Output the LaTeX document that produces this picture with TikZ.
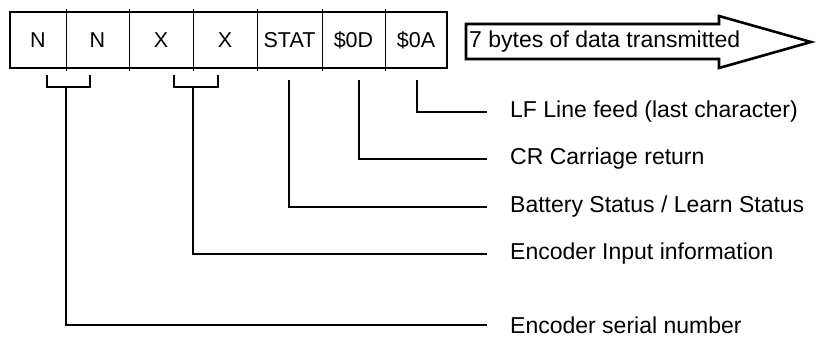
\documentclass[tikz,border=0pt]{standalone}
\usepackage{fontspec}
\setmainfont{Liberation Sans}
\begin{document}
\begin{tikzpicture}[x=1pt,y=-1pt,
  celltxt/.style={inner sep=0pt, font=\fontsize{21.5}{24}\selectfont},
  lbl/.style={anchor=west, inner sep=0pt, font=\fontsize{23}{26}\selectfont},
  conn/.style={line width=1.2pt},
  divider/.style={line width=1pt},
  frame/.style={line width=2.6pt},
  bigarrow/.style={line width=2.6pt, line join=miter}]
\useasboundingbox (0,0) rectangle (816,337);
% cells
\node[celltxt] (c1) at (38,40) {N};
\node[celltxt] (c2) at (97.5,40) {N};
\node[celltxt] (c3) at (161,40) {X};
\node[celltxt] (c4) at (225,40) {X};
\node[celltxt] (c5) at (289.5,40) {STAT};
\node[celltxt] (c6) at (353.5,40) {\$0D};
\node[celltxt] (c7) at (416,40) {\$0A};
\foreach \x in {66,129,193,257,322,385}{\draw[divider] (\x,9) -- (\x,71);}
\draw[frame] (10,12) rectangle (447,68);
% arrow
\draw[bigarrow] (466,24) -- (719,24) -- (719,16) -- (811,42) -- (719,68) -- (719,59) -- (466,59) -- cycle;
\node[lbl] (atxt) at (469,42) {7 bytes of data transmitted};
% labels
\node[lbl] (lLF) at (510,112) {LF Line feed (last character)};
\node[lbl] (lCR) at (510,159) {CR Carriage return};
\node[lbl] (lBat) at (510,207) {Battery Status / Learn Status};
\node[lbl] (lEnc) at (510,254) {Encoder Input information};
\node[lbl] (lSer) at (510,325) {Encoder serial number};
% stems
\coordinate (bN) at (66,87);
\coordinate (bX) at (193,87);
\coordinate (sS) at (289,80);
\coordinate (sD) at (359,80);
\coordinate (sA) at (417,80);
% brackets
\draw[conn] (47,75) -- (47,87) -- (90,87) -- (90,75);
\draw[conn] (174,75) -- (174,87) -- (218,87) -- (218,75);
% connectors
\draw[conn] (bN) |- ([xshift=-23pt]lSer.west);
\draw[conn] (bX) |- ([xshift=-23pt]lEnc.west);
\draw[conn] (sS) |- ([xshift=-23pt]lBat.west);
\draw[conn] (sD) |- ([xshift=-23pt]lCR.west);
\draw[conn] (sA) |- ([xshift=-23pt]lLF.west);
\end{tikzpicture}
\end{document}
